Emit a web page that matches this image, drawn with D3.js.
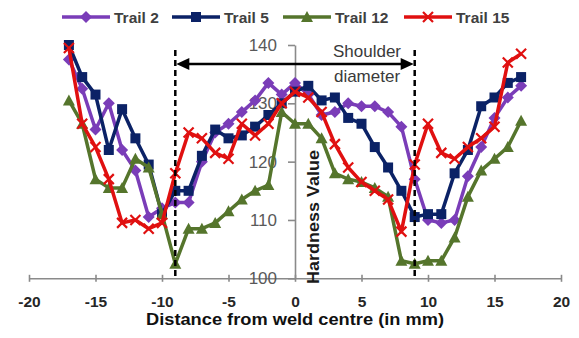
<!DOCTYPE html>
<html>
<head>
<meta charset="utf-8">
<script src="https://cdn.jsdelivr.net/npm/d3@7"></script>
<style>
  html, body { margin: 0; padding: 0; background: #fff; }
  svg { display: block; font-family: "Liberation Sans", Arial, sans-serif; }
</style>
</head>
<body>
<svg id="chart" width="579" height="338"></svg>
<script>
// Distance of each hardness reading from the weld centre (mm)
const distances = [-17, -16, -15, -14, -13, -12, -11, -10, -9, -8, -7, -6, -5, -4, -3, -2, -1, 0,
                   1, 2, 3, 4, 5, 6, 7, 8, 9, 10, 11, 12, 13, 14, 15, 16, 17];

// Hardness values per trail
const trail2  = [137.5, 132.5, 125.5, 130, 122, 118.5, 110.5, 112, 113, 113, 120, 125, 126.5, 128.5, 130.5, 133.5, 131.5, 133.5,
                 131.5, 128, 128.5, 130, 129.5, 129.5, 128.5, 126, 117, 110, 109.5, 110, 117.5, 122.5, 127.5, 131, 133];
const trail5  = [140, 134.5, 131.5, 122, 129, 124, 119.5, 111, 115, 115, 121, 125.5, 124, 124.5, 126, 128, 130, 132,
                 133, 130.5, 131, 127.5, 126.5, 122.5, 119, 115, 110.5, 111, 111, 118, 122, 129.5, 131, 133.5, 134.5];
const trail12 = [130.5, 126.5, 117, 115.5, 115.5, 120.5, 119, 111, 102.5, 108.5, 108.5, 109.5, 111.5, 113.5, 115, 116, 128.5, 126.5,
                 126.5, 124, 118, 117, 116.5, 115.5, 114, 103, 102.5, 103, 103, 107, 114, 118.5, 120.5, 122.5, 127];
const trail15 = [139.5, 126.5, 122.5, 117, 109.5, 110, 108.5, 109.5, 118, 125, 124, 121.5, 120.5, 126.5, 124.5, 126.5, 130, 132,
                 131, 128.5, 123, 119, 116.5, 115, 113.5, 108, 119.5, 126.5, 121.5, 120.5, 122.5, 124, 126, 137, 138.5];

const seriesNames = ["Trail 2", "Trail 5", "Trail 12", "Trail 15"];
const xTicks = [-20, -15, -10, -5, 0, 5, 10, 15, 20];
const yTicks = [100, 110, 120, 130, 140];
const shoulderEdges = [-9, 9];

const seriesValues = [trail2, trail5, trail12, trail15];
const colors = ["#7a3db8", "#0b2266", "#55752c", "#e01010"];
const markerKinds = ["diamond", "square", "triangle", "cross"];

const svg = d3.select("#chart");

const x = d3.scaleLinear().domain([-20, 20]).range([29, 561]);
const y = d3.scaleLinear().domain([100, 140]).range([278.3, 45]);

// ---- axes ----
const axisGrey = "#8a8a8a";

const gx = svg.append("g")
  .attr("transform", `translate(0,${y(100)})`)
  .call(d3.axisBottom(x).tickValues(xTicks).tickSizeOuter(0).tickFormat(d => String(d)));
gx.select(".domain").attr("stroke", axisGrey).attr("stroke-width", 1.6);
gx.selectAll(".tick line").attr("stroke", axisGrey).attr("stroke-width", 1.6).attr("y1", -3.5).attr("y2", 3.5);
gx.selectAll(".tick text")
  .attr("y", 29).attr("dy", null)
  .attr("fill", "#262626")
  .attr("font-size", 15.5).attr("font-weight", "bold")
  .attr("font-family", "'Liberation Sans', Arial, sans-serif");

const gy = svg.append("g")
  .attr("transform", `translate(${x(0)},0)`)
  .call(d3.axisLeft(y).tickValues(yTicks).tickSize(7).tickSizeOuter(0).tickPadding(11));
gy.select(".domain").attr("stroke", axisGrey).attr("stroke-width", 1.6);
gy.selectAll(".tick line").attr("stroke", axisGrey).attr("stroke-width", 1.6);
gy.selectAll(".tick text")
  .attr("fill", "#595959")
  .attr("font-size", 17)
  .attr("font-family", "'Liberation Sans', Arial, sans-serif");

// ---- markers ----
function drawMarker(g, kind, color) {
  if (kind === "diamond") {
    g.append("path").attr("d", "M0,-6L6,0L0,6L-6,0Z").attr("fill", color);
  } else if (kind === "square") {
    g.append("rect").attr("x", -5).attr("y", -5).attr("width", 10).attr("height", 10).attr("fill", color);
  } else if (kind === "triangle") {
    g.append("path").attr("d", "M0,-6L6,5L-6,5Z").attr("fill", color);
  } else {
    g.append("path").attr("d", "M-5,-5L5,5M-5,5L5,-5")
      .attr("stroke", color).attr("stroke-width", 2.2).attr("fill", "none");
  }
}

// ---- series ----
const line = d3.line().x(d => x(d.x)).y(d => y(d.v));

seriesValues.forEach((vals, i) => {
  const pts = distances.map((d, k) => ({ x: d, v: vals[k] }));
  const g = svg.append("g").attr("class", "series");
  g.append("path")
    .datum(pts)
    .attr("d", line)
    .attr("fill", "none")
    .attr("stroke", colors[i])
    .attr("stroke-width", 3.5)
    .attr("stroke-linejoin", "round");
  g.selectAll("g.pt")
    .data(pts)
    .join("g")
    .attr("class", "pt")
    .attr("transform", d => `translate(${x(d.x)},${y(d.v)})`)
    .each(function () { drawMarker(d3.select(this), markerKinds[i], colors[i]); });
});

// ---- shoulder diameter annotation ----
const ann = svg.append("g");
const arrowY = 64;
shoulderEdges.forEach(e => {
  ann.append("line")
    .attr("x1", x(e)).attr("x2", x(e))
    .attr("y1", 50).attr("y2", y(100))
    .attr("stroke", "#000").attr("stroke-width", 2.5)
    .attr("stroke-dasharray", "6,4");
});
const xl = x(shoulderEdges[0]) + 1, xr = x(shoulderEdges[1]) - 1;
ann.append("line")
  .attr("x1", xl + 10).attr("x2", xr - 10)
  .attr("y1", arrowY).attr("y2", arrowY)
  .attr("stroke", "#000").attr("stroke-width", 2.5);
ann.append("path")
  .attr("d", `M${xl},${arrowY}L${xl + 13},${arrowY - 6}L${xl + 13},${arrowY + 6}Z`)
  .attr("fill", "#000");
ann.append("path")
  .attr("d", `M${xr},${arrowY}L${xr - 13},${arrowY - 6}L${xr - 13},${arrowY + 6}Z`)
  .attr("fill", "#000");
ann.append("text")
  .attr("x", 367).attr("y", 57)
  .attr("text-anchor", "middle")
  .attr("font-size", 17).attr("fill", "#3a3a3a")
  .text("Shoulder");
ann.append("text")
  .attr("x", 367).attr("y", 82)
  .attr("text-anchor", "middle")
  .attr("font-size", 17).attr("fill", "#3a3a3a")
  .text("diameter");

// ---- axis titles ----
svg.append("text")
  .attr("x", x(0)).attr("y", 325)
  .attr("text-anchor", "middle")
  .attr("font-size", 16).attr("font-weight", "bold").attr("fill", "#111")
  .attr("textLength", 298).attr("lengthAdjust", "spacingAndGlyphs")
  .text("Distance from weld centre (in mm)");

svg.append("text")
  .attr("transform", "translate(319,284) rotate(-90)")
  .attr("text-anchor", "start")
  .attr("font-size", 16).attr("font-weight", "bold").attr("fill", "#1a1a1a")
  .attr("textLength", 134).attr("lengthAdjust", "spacingAndGlyphs")
  .text("Hardness Value");

// ---- legend ----
const legendY = 17;
const legendX = [62, 172, 283, 404];
seriesNames.forEach((name, i) => {
  const lg = svg.append("g").attr("transform", `translate(${legendX[i]},${legendY})`);
  lg.append("line").attr("x1", 0).attr("x2", 48).attr("y1", 0).attr("y2", 0)
    .attr("stroke", colors[i]).attr("stroke-width", 3.5);
  const m = lg.append("g").attr("transform", "translate(24,0)");
  drawMarker(m, markerKinds[i], colors[i]);
  lg.append("text")
    .attr("x", 52).attr("y", 5.5)
    .attr("font-size", 15.5).attr("font-weight", "bold").attr("fill", "#404040")
    .text(name);
});
</script>
</body>
</html>
